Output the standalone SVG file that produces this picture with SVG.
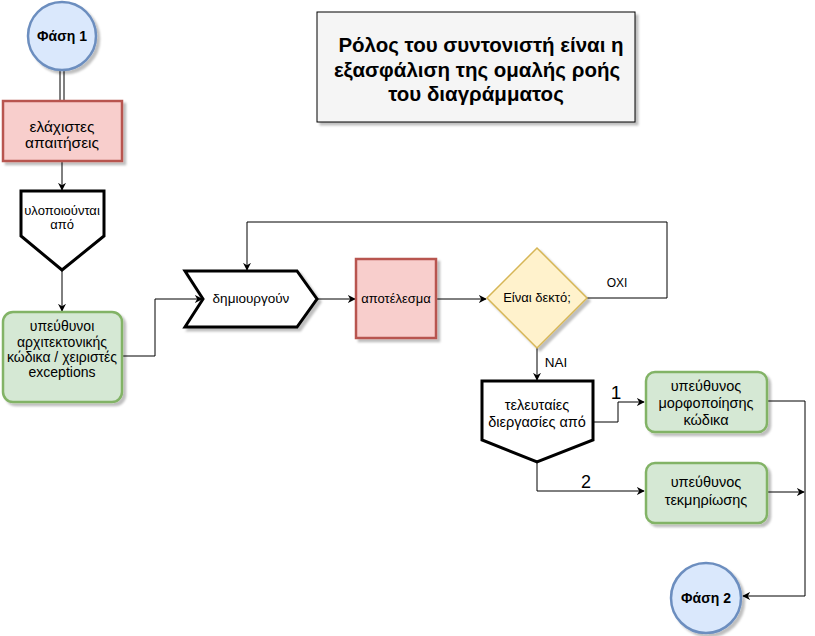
<svg xmlns="http://www.w3.org/2000/svg" width="815" height="636" viewBox="0 0 815 636">
<defs>
<marker id="arr" viewBox="0 0 10 10" refX="9" refY="5" markerWidth="8" markerHeight="8" markerUnits="userSpaceOnUse" orient="auto">
<path d="M0,0 L10,5 L0,10 L3,5 Z" fill="#000"/>
</marker>
<filter id="sh" x="-10%" y="-10%" width="130%" height="130%">
<feDropShadow dx="3" dy="3" stdDeviation="1" flood-color="#000" flood-opacity="0.25"/>
</filter>
</defs>
<style>
text{font-family:"Liberation Sans",Arial,sans-serif;font-size:13px;fill:#000;text-anchor:middle}
.b{font-weight:bold}
.t14{font-size:14px}
.t145{font-size:14.5px}
.edge{fill:none;stroke:#000;stroke-width:1}
.circ{fill:#dae8fc;stroke:#6c8ebf;stroke-width:2.5}
.red{fill:#f8cecc;stroke:#b85450;stroke-width:2.5}
.green{fill:#d5e8d4;stroke:#82b366;stroke-width:2.5}
.blk{fill:#fff;stroke:#000;stroke-width:3}
</style>
<rect width="815" height="636" fill="#fff"/>

<g id="connectors">
<path class="edge" d="M60,70 V101 M64,70 V101"/>
<path class="edge" d="M62,161 V190" marker-end="url(#arr)"/>
<path class="edge" d="M62,271 V311" marker-end="url(#arr)"/>
<path class="edge" d="M122,356 H155 V299 H202" marker-end="url(#arr)"/>
<path class="edge" d="M318,299 H355" marker-end="url(#arr)" stroke="#333" stroke-width="1.3"/>
<path class="edge" d="M437,299 H486" marker-end="url(#arr)" stroke="#333" stroke-width="1.3"/>
<path class="edge" d="M587,298 H667 V222 H247 V270" marker-end="url(#arr)"/>
<path class="edge" d="M537,348 V380" marker-end="url(#arr)"/>
<path class="edge" d="M593,422 H618 V402 H644" marker-end="url(#arr)"/>
<path class="edge" d="M537,462 V491 H644" marker-end="url(#arr)"/>
<path class="edge" d="M767,401 H805 V596 H743" marker-end="url(#arr)"/>
<path class="edge" d="M767,492 H804" marker-end="url(#arr)"/>
<text x="617" y="287" style="font-size:12px">ΟΧΙ</text>
<text x="556" y="367" style="font-size:13.5px">ΝΑΙ</text>
<text x="616" y="399" style="font-size:19px">1</text>
<text x="586" y="488" style="font-size:18px">2</text>
</g>

<g id="title">
<rect x="317" y="12" width="318" height="110" fill="#f5f5f5" stroke="#000" stroke-width="1" filter="url(#sh)"/>
<text x="481" y="52" class="b" style="font-size:20.5px">Ρόλος του συντονιστή είναι η</text>
<text x="477" y="77" class="b" style="font-size:20.5px">εξασφάλιση της ομαλής ροής</text>
<text x="476" y="101" class="b" style="font-size:20.5px">του διαγράμματος</text>
</g>

<g id="phase1">
<circle cx="62" cy="36" r="34" class="circ" filter="url(#sh)"/>
<text x="62" y="41" class="b" style="font-size:14px">Φάση 1</text>
</g>

<g id="min-req">
<rect x="3" y="101" width="119" height="60" class="red" filter="url(#sh)"/>
<text x="62" y="132" style="font-size:15.5px">ελάχιστες</text>
<text x="62" y="148" style="font-size:15.5px">απαιτήσεις</text>
</g>

<g id="implemented-by">
<path d="M21,191 H104 V236 L62,270 L21,236 Z" class="blk"/>
<text x="62" y="215">υλοποιούνται</text>
<text x="62" y="229">από</text>
</g>

<g id="architects">
<rect x="3" y="312" width="119" height="90" rx="10" class="green" filter="url(#sh)"/>
<text x="62" y="331" class="t14">υπεύθυνοι</text>
<text x="62" y="347" class="t14">αρχιτεκτονικής</text>
<text x="62" y="362" class="t14">κώδικα / χειριστές</text>
<text x="62" y="377" class="t14">exceptions</text>
</g>

<g id="create">
<path d="M185,271 H297 L317,299 L297,327 H185 L203,299 Z" class="blk" filter="url(#sh)"/>
<text x="251" y="303" style="font-size:13.5px">δημιουργούν</text>
</g>

<g id="result">
<rect x="356" y="259" width="80" height="79" class="red" filter="url(#sh)"/>
<text x="396" y="303">αποτέλεσμα</text>
</g>

<g id="accepted">
<path d="M537,248 L587,298 L537,348 L487,298 Z" fill="#fff2cc" stroke="#d6b656" stroke-width="1.5" filter="url(#sh)"/>
<text x="537" y="302">Είναι δεκτό;</text>
</g>

<g id="final-tasks">
<path d="M482,381 H593 V440 L537,462 L482,440 Z" class="blk"/>
<text x="537" y="410" class="t145">τελευταίες</text>
<text x="537" y="427" class="t145">διεργασίες από</text>
</g>

<g id="formatting">
<rect x="646" y="372" width="121" height="60" rx="9" class="green" filter="url(#sh)"/>
<text x="706" y="391" class="t145">υπεύθυνος</text>
<text x="706" y="408" class="t145">μορφοποίησης</text>
<text x="706" y="425" class="t145">κώδικα</text>
</g>

<g id="documentation">
<rect x="646" y="463" width="121" height="60" rx="9" class="green" filter="url(#sh)"/>
<text x="706" y="487" class="t145">υπεύθυνος</text>
<text x="706" y="505" class="t145">τεκμηρίωσης</text>
</g>

<g id="phase2">
<circle cx="706" cy="598" r="35" class="circ" filter="url(#sh)"/>
<text x="706" y="603" class="b" style="font-size:14px">Φάση 2</text>
</g>
</svg>
